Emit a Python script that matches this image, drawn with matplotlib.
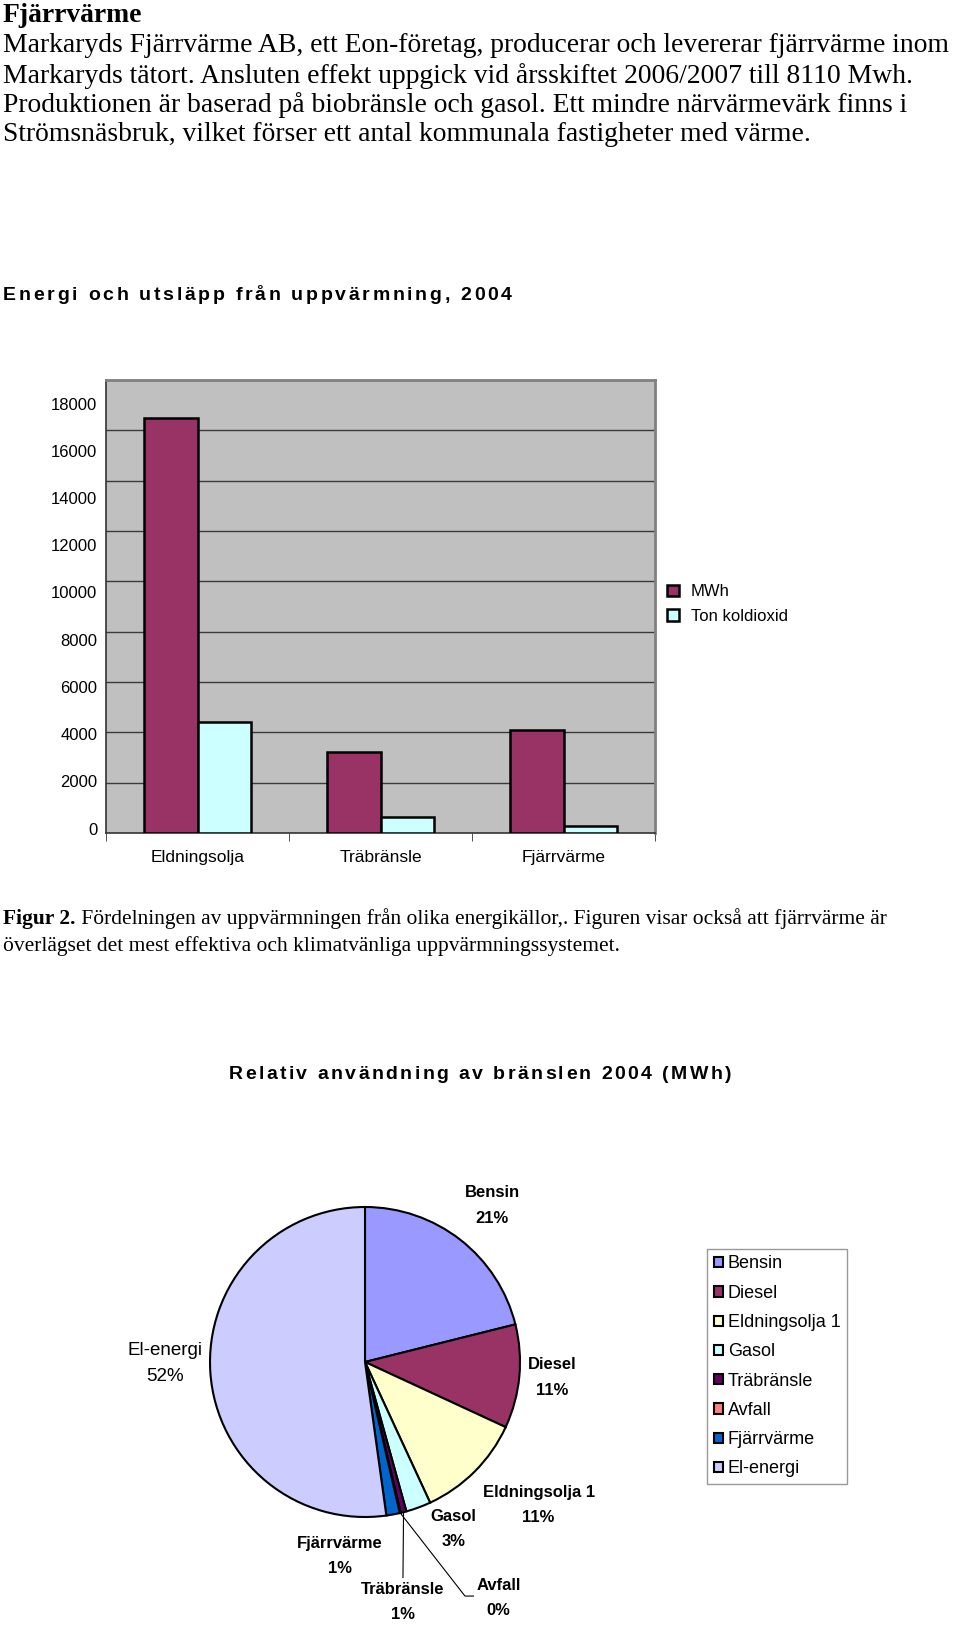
import numpy as np
import matplotlib.pyplot as plt
from matplotlib.font_manager import FontProperties, findfont
from matplotlib.ft2font import FT2Font

W, H = 960, 1637

# text
heading = 'Fjärrvärme'
intro_lines = [
    'Markaryds Fjärrvärme AB, ett Eon-företag, producerar och levererar fjärrvärme inom',
    'Markaryds tätort. Ansluten effekt uppgick vid årsskiftet 2006/2007 till 8110 Mwh.',
    'Produktionen är baserad på biobränsle och gasol. Ett mindre närvärmevärk finns i',
    'Strömsnäsbruk, vilket förser ett antal kommunala fastigheter med värme.',
]
caption_bold = 'Figur 2.'
caption_lines = [
    ' Fördelningen av uppvärmningen från olika energikällor,. Figuren visar också att fjärrvärme är',
    'överlägset det mest effektiva och klimatvänliga uppvärmningssystemet.',
]
bar_title = 'Energi och utsläpp från uppvärmning, 2004'
pie_title = 'Relativ användning av bränslen 2004 (MWh)'

# bar chart data
bar_categories = ['Eldningsolja', 'Träbränsle', 'Fjärrvärme']
bar_series = ['MWh', 'Ton koldioxid']
mwh = [16500, 3200, 4080]
ton_co2 = [4400, 620, 270]
y_ticks = list(range(0, 18001, 2000))

# pie data (percent)
pie_labels = ['Bensin', 'Diesel', 'Eldningsolja 1', 'Gasol', 'Träbränsle',
              'Avfall', 'Fjärrvärme', 'El-energi']
pie_values = [21.1, 10.8, 11.2, 2.6, 0.6, 0.1, 1.4, 52.2]
pie_colors = ['#9999FF', '#993366', '#FFFFCC', '#CCFFFF', '#660066',
              '#FF8080', '#0066CC', '#CCCCFF']


def fx(px):
    return px / W


def fy(py):
    return 1 - py / H


sans = ['Liberation Sans', 'DejaVu Sans']
serif = 'Liberation Serif'

fig = plt.figure(figsize=(9.6, 16.37), dpi=100)
renderer = fig.canvas.get_renderer()


def tracked_text(x_px, baseline_px, s, size, tracking, ha='left'):
    # letter-spaced bold title, one glyph at a time
    prop = FontProperties(family='Liberation Sans', weight='bold', size=size)
    font = FT2Font(findfont(prop))
    font.set_size(size, 100)
    advs = [font.load_char(ord(c)).linearHoriAdvance / 65536 for c in s]
    total = sum(advs) + tracking * (len(s) - 1)
    xpos = x_px - total / 2 if ha == 'center' else x_px
    for c, a in zip(s, advs):
        fig.text(fx(xpos), fy(baseline_px), c, fontproperties=prop, va='baseline')
        xpos += a + tracking


# intro text
fig.text(fx(3), fy(15), heading, family=serif, weight='bold', size=19.9, va='center')
for i, line in enumerate(intro_lines):
    fig.text(fx(3), fy(46 + i * 29.6), line, family=serif, size=19.9, va='center')

# bar chart
tracked_text(3, 300, bar_title, 14, 2.7)

ax = fig.add_axes([fx(106), fy(833), (655 - 106) / W, (833 - 380) / H])
ax.set_facecolor('#C0C0C0')
x = np.arange(len(bar_categories))
w = 0.29
ax.bar(x - w / 2, mwh, w, color='#993366', edgecolor='black', lw=1.8,
       label=bar_series[0], zorder=3)
ax.bar(x + w / 2, ton_co2, w, color='#CCFFFF', edgecolor='black', lw=1.8,
       label=bar_series[1], zorder=3)
ax.set_xlim(-0.5, 2.5)
ax.set_ylim(0, 18000)
for v in y_ticks[1:-1]:
    ax.axhline(v, color='#3a3a3a', lw=1, zorder=1)
ax.set_yticks([])
# tick labels sit slightly off the gridlines in the original
for v in y_ticks:
    ax.text(-0.0155, 119 + v * 0.938, str(v), transform=ax.get_yaxis_transform(),
            ha='right', va='center', family=sans, size=12)
ax.set_xticks(x, bar_categories, family=sans, size=12.5)
ax.set_xticks([-0.5, 0.5, 1.5, 2.5], minor=True)
ax.tick_params(axis='x', which='major', length=0, pad=12)
ax.tick_params(axis='x', which='minor', length=6, color='#333333')
for side in ['left', 'bottom']:
    ax.spines[side].set_color('#333333')
    ax.spines[side].set_linewidth(1.2)
for side in ['top', 'right']:
    ax.spines[side].set_color('#808080')
    ax.spines[side].set_linewidth(2)
ax.legend(loc='center left', bbox_to_anchor=(fx(659), fy(604)),
          bbox_transform=fig.transFigure, frameon=False, borderpad=0,
          handlelength=0.68, handleheight=0.68, handletextpad=0.72,
          labelspacing=0.56, prop={'family': sans, 'size': 12})

# caption
t = fig.text(fx(3), fy(919), caption_bold, family=serif, weight='bold', size=15.5, va='center')
bb = t.get_window_extent(renderer)
fig.text(bb.x1 / W, fy(919), caption_lines[0], family=serif, size=15.5, va='center')
fig.text(fx(3), fy(946), caption_lines[1], family=serif, size=15.5, va='center')

# pie chart
tracked_text(480, 1079, pie_title, 14, 2.4, ha='center')

r_px = 155
half = 250
pax = fig.add_axes([fx(365 - half), fy(1362 + half), 2 * half / W, 2 * half / H])
wedges, _ = pax.pie(pie_values, colors=pie_colors, startangle=90, counterclock=False,
                    wedgeprops=dict(edgecolor='black', linewidth=1.5))
lim = half / r_px
pax.set_xlim(-lim, lim)
pax.set_ylim(-lim, lim)
pax.set_aspect('equal')
pax.set_axis_off()

label_xy = [(0.82, 1.01), (1.21, -0.10), (1.12, -0.92), (0.57, -1.08),
            (0.245, -1.55), (0.86, -1.52), (-0.16, -1.25), (-1.29, -0.01)]
for name, val, (lx, ly) in zip(pie_labels, pie_values, label_xy):
    bold = name != 'El-energi'
    pax.text(lx, ly, f'{name}\n{val:.0f}%', ha='center', va='center',
             family=sans, weight='bold' if bold else 'normal',
             size=12 if bold else 13.5, linespacing=1.85 if bold else 1.65)

# leader lines for the thin slices
for idx, pts in [(4, [(0.245, -1.39)]), (5, [(0.645, -1.51), (0.70, -1.51)])]:
    wd = wedges[idx]
    ang = np.deg2rad((wd.theta1 + wd.theta2) / 2)
    xs = [np.cos(ang)] + [p[0] for p in pts]
    ys = [np.sin(ang)] + [p[1] for p in pts]
    pax.plot(xs, ys, color='black', lw=0.8)

leg = pax.legend(wedges, pie_labels, loc='upper left',
                 bbox_to_anchor=(fx(707), fy(1249)), bbox_transform=fig.transFigure,
                 frameon=True, fancybox=False, edgecolor='#808080',
                 prop={'family': sans, 'size': 13}, handlelength=0.5,
                 handleheight=0.5, handletextpad=0.3, labelspacing=0.68,
                 borderpad=0.36, borderaxespad=0)
leg.get_frame().set_linewidth(1)

fig.savefig('out.png', dpi=100)
